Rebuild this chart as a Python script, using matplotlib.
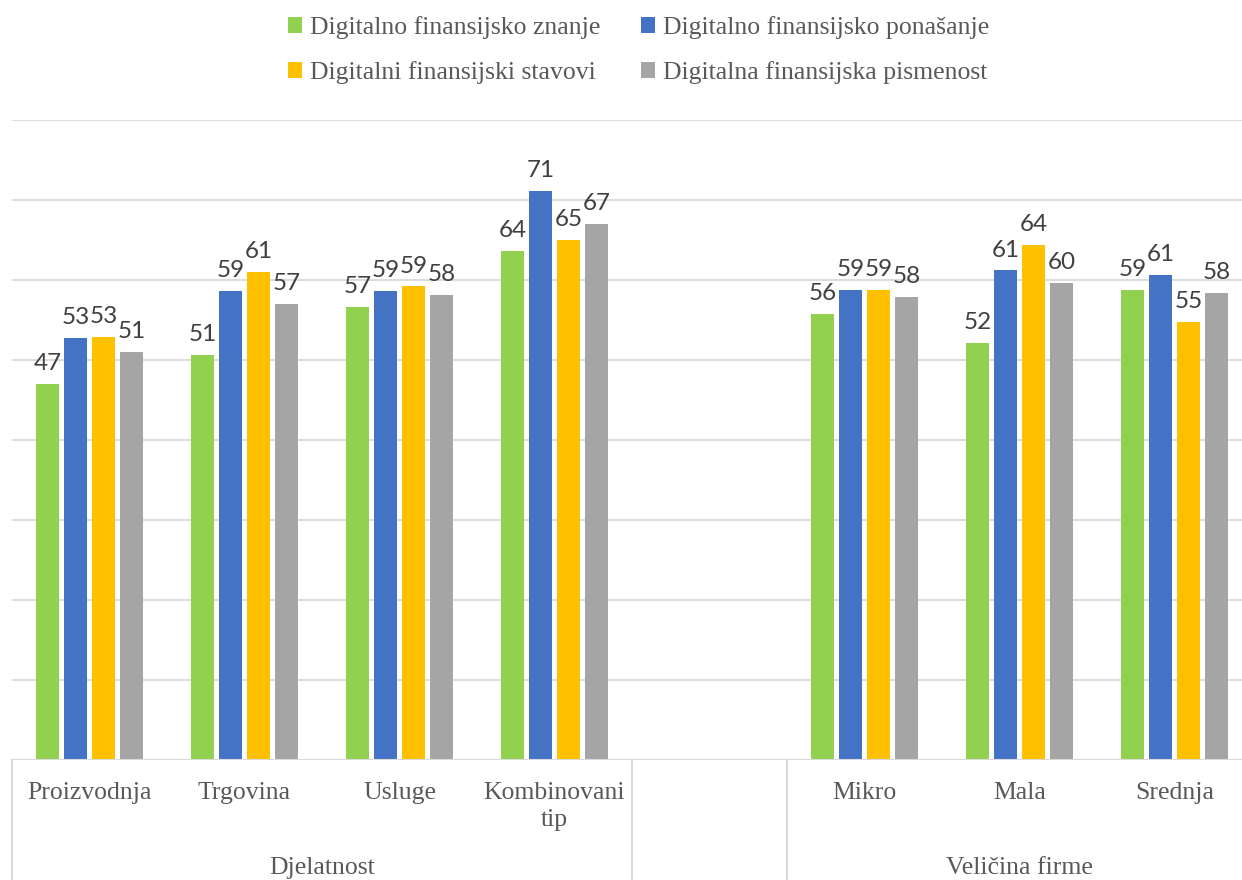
import numpy as np
import matplotlib
matplotlib.use("Agg")
import matplotlib.pyplot as plt
from matplotlib.transforms import blended_transform_factory

# Podaci
kategorije = ["Proizvodnja", "Trgovina", "Usluge", "Kombinovani\ntip",
              "", "Mikro", "Mala", "Srednja"]
grupe = ["Djelatnost", "Veličina firme"]

serije = ["Digitalno finansijsko znanje", "Digitalno finansijsko ponašanje",
          "Digitalni finansijski stavovi", "Digitalna finansijska pismenost"]
boje = ["#92D050", "#4472C4", "#FFC000", "#A5A5A5"]

znanje = [47.0, 50.6, 56.6, 63.6, None, 55.8, 52.1, 58.8]
ponasanje = [52.8, 58.6, 58.6, 71.1, None, 58.8, 61.2, 60.6]
stavovi = [52.9, 61.0, 59.2, 65.0, None, 58.8, 64.4, 54.8]
pismenost = [51.0, 57.0, 58.1, 67.0, None, 57.9, 59.6, 58.4]
vrijednosti = [znanje, ponasanje, stavovi, pismenost]

W, H = 1242, 880
fig = plt.figure(figsize=(W / 100, H / 100), dpi=100)
ax = fig.add_axes([12 / W, (H - 760) / H, (W - 12) / W, 640 / H])

x = np.arange(len(kategorije))
pomak = 0.18
sirina = 0.145

rucke = []
for i, (ime, boja, vals) in enumerate(zip(serije, boje, vrijednosti)):
    xs = [xi + (i - 1.5) * pomak for xi, v in zip(x, vals) if v is not None]
    ys = [v for v in vals if v is not None]
    b = ax.bar(xs, ys, width=sirina, color=boja, label=ime, zorder=3)
    rucke.append(b)
    for xx, yy in zip(xs, ys):
        ax.annotate(f"{yy:.0f}", (xx, yy), xytext=(0, 7), textcoords="offset points",
                    ha="center", va="bottom", fontsize=17.5, family="Lato",
                    color="#404040")

# Osi
ax.set_ylim(0, 80)
ax.set_xlim(-0.5, -0.5 + 1230 / 155)
ax.set_yticks(np.arange(10, 81, 10))
ax.yaxis.grid(True, color="#D9D9D9", linewidth=1.3, zorder=0)
ax.tick_params(left=False, labelleft=False, bottom=False, labelbottom=False)
for s in ax.spines.values():
    s.set_visible(False)
ax.axhline(0, color="#D9D9D9", linewidth=1.5, zorder=4)

# Dvostepene oznake na x osi
tr = blended_transform_factory(ax.transData, ax.transAxes)
dno = -(120 / 640)
for xs in [-0.5, 3.5, 4.5]:
    ax.plot([xs, xs], [0, dno], transform=tr, color="#D9D9D9",
            linewidth=1.5, clip_on=False)

for xi, naziv in zip(x, kategorije):
    ax.text(xi, -22 / 640, naziv, transform=tr, ha="center", va="top",
            fontsize=18.5, family="Liberation Serif", color="#595959",
            linespacing=1.3)

ax.text(1.5, -97 / 640, grupe[0], transform=tr, ha="center", va="top",
        fontsize=18.5, family="Liberation Serif", color="#595959")
ax.text(6.0, -97 / 640, grupe[1], transform=tr, ha="center", va="top",
        fontsize=18.5, family="Liberation Serif", color="#595959")

# Legenda (redoslijed kao u Excelu)
redoslijed = [0, 2, 1, 3]
leg = fig.legend([rucke[i] for i in redoslijed], [serije[i] for i in redoslijed],
                 loc="upper center", bbox_to_anchor=(0.514, 1.008), ncol=2,
                 frameon=False, handlelength=0.55, handleheight=0.55,
                 handletextpad=0.3, columnspacing=1.6, labelspacing=0.85,
                 prop={"family": "Liberation Serif", "size": 18.5})
for t in leg.get_texts():
    t.set_color("#595959")

fig.savefig("out.png", dpi=100)
